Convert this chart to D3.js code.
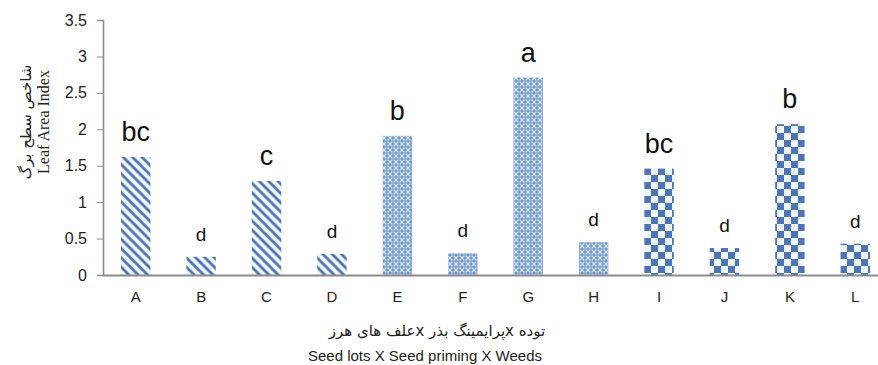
<!DOCTYPE html>
<html>
<head>
<meta charset="utf-8">
<script src="https://cdn.jsdelivr.net/npm/d3@7"></script>
<style>
  body { margin: 0; background: #fff; }
  svg { display: block; }
</style>
</head>
<body>
<svg id="chart" width="878" height="365"></svg>
<script>
// chart data
const categories = ["A", "B", "C", "D", "E", "F", "G", "H", "I", "J", "K", "L"];
const lai = [1.62, 0.25, 1.29, 0.29, 1.91, 0.30, 2.71, 0.45, 1.46, 0.37, 2.07, 0.43];
const letters = ["bc", "d", "c", "d", "b", "d", "a", "d", "bc", "d", "b", "d"];
const fillKind = ["stripe", "stripe", "stripe", "stripe", "mesh", "mesh", "mesh", "mesh", "check", "check", "check", "check"];
const yTicks = [0, 0.5, 1, 1.5, 2, 2.5, 3, 3.5];

const svg = d3.select("#chart");
const defs = svg.append("defs");

// diagonal stripes (A-D)
const stripe = defs.append("pattern")
    .attr("id", "stripe")
    .attr("patternUnits", "userSpaceOnUse")
    .attr("width", 6.6).attr("height", 6.6)
    .attr("patternTransform", "rotate(-45)");
stripe.append("rect").attr("width", 6.6).attr("height", 6.6).attr("fill", "#f4faff");
stripe.append("rect").attr("x", 0.7).attr("width", 3.4).attr("height", 6.6).attr("fill", "#a3bfe0");
stripe.append("rect").attr("x", 1.3).attr("width", 2.2).attr("height", 6.6).attr("fill", "#4b6ca7");

// diamond mesh (E-H)
const mesh = defs.append("pattern")
    .attr("id", "mesh")
    .attr("patternUnits", "userSpaceOnUse")
    .attr("width", 6).attr("height", 6);
mesh.append("rect").attr("width", 6).attr("height", 6).attr("fill", "#7395c7");
mesh.append("path").attr("d", "M0,0L6,6M6,0L0,6")
    .attr("stroke", "#cfe6f3").attr("stroke-width", 1.3);
mesh.append("circle").attr("cx", 3).attr("cy", 3).attr("r", 0.8).attr("fill", "#4d6ea8");
mesh.append("circle").attr("cx", 0).attr("cy", 0).attr("r", 0.6).attr("fill", "#e8f4fa");

// checkerboard (I-L)
const check = defs.append("pattern")
    .attr("id", "check")
    .attr("patternUnits", "userSpaceOnUse")
    .attr("width", 14).attr("height", 14);
check.append("rect").attr("width", 14).attr("height", 14).attr("fill", "#eef8fc");
check.append("rect").attr("width", 7).attr("height", 7).attr("fill", "#4f74b1");
check.append("rect").attr("x", 7).attr("y", 7).attr("width", 7).attr("height", 7).attr("fill", "#4f74b1");

// scales
const x = d3.scaleBand()
    .domain(categories)
    .range([103, 888])
    .paddingInner(0.55)
    .paddingOuter(0.275);

const y = d3.scaleLinear()
    .domain([0, 3.5])
    .range([275, 20]);

// bars
svg.append("g").selectAll("rect")
    .data(categories)
    .enter().append("rect")
    .attr("x", d => x(d))
    .attr("y", (d, i) => y(lai[i]))
    .attr("width", x.bandwidth())
    .attr("height", (d, i) => y(0) - y(lai[i]))
    .attr("fill", (d, i) => `url(#${fillKind[i]})`);

// significance letters
svg.append("g").selectAll("text")
    .data(categories)
    .enter().append("text")
    .attr("x", d => x(d) + x.bandwidth() / 2)
    .attr("y", (d, i) => y(lai[i]) - 16)
    .attr("text-anchor", "middle")
    .style("font-family", "'Liberation Sans', Arial, sans-serif")
    .style("font-size", (d, i) => letters[i] === "d" ? "19px" : "27px")
    .style("fill", "#111")
    .text((d, i) => letters[i]);

// y axis
const yAxis = svg.append("g")
    .attr("transform", "translate(103,0)")
    .call(d3.axisLeft(y).tickValues(yTicks).tickFormat(d => String(d)).tickSize(6).tickPadding(10));
yAxis.select(".domain").attr("stroke", "#8c8c8c").attr("stroke-width", 1.6);
yAxis.selectAll(".tick line").attr("stroke", "#8c8c8c");
yAxis.selectAll(".tick text")
    .style("font-family", "'Liberation Sans', Arial, sans-serif")
    .style("font-size", "16px")
    .style("fill", "#222");

// x axis
const xAxis = svg.append("g")
    .attr("transform", "translate(0,275)")
    .call(d3.axisBottom(x).tickSize(0).tickPadding(16).tickSizeOuter(0));
xAxis.select(".domain").attr("stroke", "#8c8c8c").attr("stroke-width", 2);
xAxis.selectAll(".tick text")
    .style("font-family", "'Liberation Sans', Arial, sans-serif")
    .style("font-size", "15px")
    .style("fill", "#222");

// y axis title (two lines)
svg.append("text")
    .attr("transform", "translate(31,122) rotate(-90)")
    .attr("text-anchor", "middle")
    .style("font-family", "'DejaVu Sans', sans-serif")
    .style("font-size", "15px")
    .style("fill", "#222")
    .text("شاخص سطح برگ");

svg.append("text")
    .attr("transform", "translate(49,122) rotate(-90)")
    .attr("text-anchor", "middle")
    .style("font-family", "'Liberation Serif', 'Times New Roman', serif")
    .style("font-size", "16px")
    .style("fill", "#222")
    .text("Leaf Area Index");

// x axis title (two lines)
svg.append("text")
    .attr("x", 437)
    .attr("y", 336)
    .attr("text-anchor", "middle")
    .attr("direction", "rtl")
    .style("font-family", "'DejaVu Sans', sans-serif")
    .style("font-size", "15px")
    .style("fill", "#222")
    .text("توده xپرایمینگ بذر xعلف های هرز");

svg.append("text")
    .attr("x", 425)
    .attr("y", 361)
    .attr("text-anchor", "middle")
    .style("font-family", "'Liberation Sans', Arial, sans-serif")
    .style("font-size", "15px")
    .style("fill", "#222")
    .text("Seed lots X Seed priming X Weeds");
</script>
</body>
</html>
